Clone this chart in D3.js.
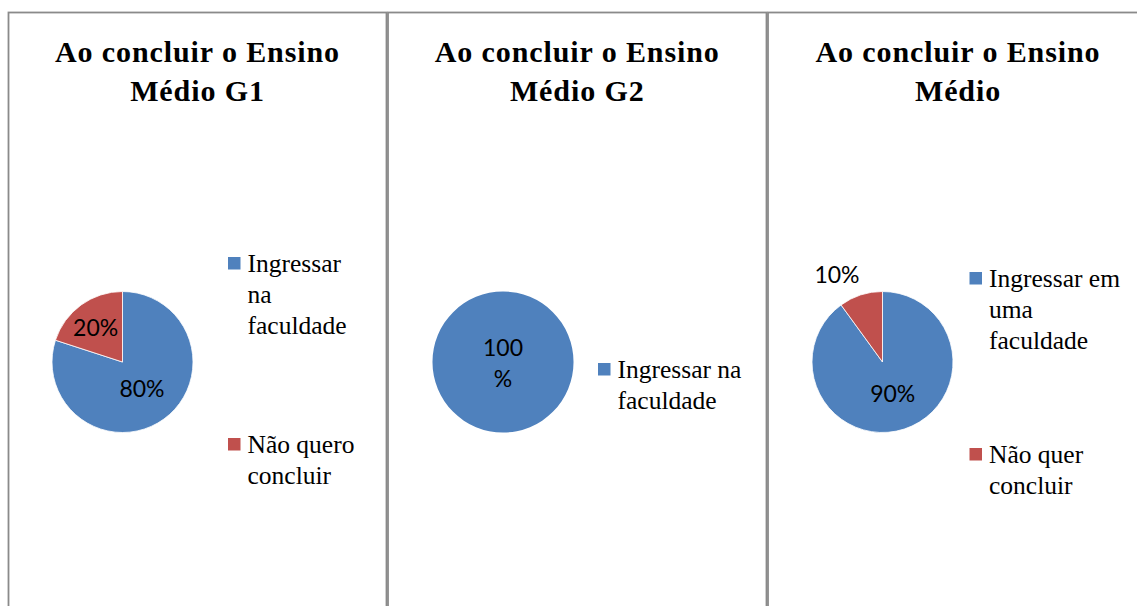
<!DOCTYPE html>
<html>
<head>
<meta charset="utf-8">
<script src="https://cdn.jsdelivr.net/npm/d3@7"></script>
<style>
  body { margin: 0; background: #fff; }
  svg { display: block; }
</style>
</head>
<body>
<div class="chartContainer"></div>
<script>
// titles of the three charts
const titlesG1 = ["Ao concluir o Ensino", "Médio G1"];
const titlesG2 = ["Ao concluir o Ensino", "Médio G2"];
const titlesAll = ["Ao concluir o Ensino", "Médio"];

// categories (legend text, already broken in lines like the original) and values in %
const categoriesG1 = [["Ingressar", "na", "faculdade"], ["Não quero", "concluir"]];
const valuesG1 = [80, 20];

const categoriesG2 = [["Ingressar na", "faculdade"]];
const valuesG2 = [100];

const categoriesAll = [["Ingressar em", "uma", "faculdade"], ["Não quer", "concluir"]];
const valuesAll = [90, 10];

const sliceColors = ["#4F81BD", "#C0504D"];

const serifFont = "'Liberation Serif', Tinos, 'Times New Roman', serif";

window.addEventListener("load", () => {
  drawCharts();
});

function drawCharts() {
  const width = 1137, height = 606;

  const svg = d3.select(".chartContainer")
    .append("svg")
    .attr("width", width)
    .attr("height", height);

  // layout of each panel (positions only)
  const panels = [
    { x0: 8.5, x1: 386.5, cx: 122.5, legendX: 228, legendY: [257, 438],
      titles: titlesG1, cats: categoriesG1, values: valuesG1 },
    { x0: 388, x1: 766.5, cx: 503, legendX: 598, legendY: [363],
      titles: titlesG2, cats: categoriesG2, values: valuesG2 },
    { x0: 768, x1: 1148, cx: 882.5, legendX: 969.5, legendY: [272, 448],
      titles: titlesAll, cats: categoriesAll, values: valuesAll },
  ];

  const cy = 362, radius = 70.5;

  const pie = d3.pie().sort(null).value(d => d);
  const arc = d3.arc().innerRadius(0).outerRadius(radius);

  panels.forEach(p => {
    const g = svg.append("g");

    // panel frame
    g.append("rect")
      .attr("x", p.x0)
      .attr("y", 12.5)
      .attr("width", p.x1 - p.x0)
      .attr("height", 700)
      .attr("fill", "none")
      .attr("stroke", "#8a8a8a")
      .attr("stroke-width", 1.8);

    // title
    const mid = (p.x0 + p.x1) / 2;
    g.selectAll(".title")
      .data(p.titles)
      .enter()
      .append("text")
      .attr("class", "title")
      .attr("x", mid)
      .attr("y", (d, i) => 62 + i * 39)
      .attr("text-anchor", "middle")
      .style("font-family", serifFont)
      .style("font-weight", "bold")
      .style("font-size", "30px")
      .style("letter-spacing", "0.9px")
      .text(d => d);

    // pie
    const pg = g.append("g").attr("transform", "translate(" + p.cx + "," + cy + ")");
    const slices = pie(p.values);

    pg.selectAll("path")
      .data(slices)
      .enter()
      .append("path")
      .attr("d", arc)
      .attr("fill", (d, i) => sliceColors[i])
      .attr("stroke", "#fff")
      .attr("stroke-width", slices.length > 1 ? 0.8 : 0);

    // data labels
    slices.forEach(s => {
      const txt = s.value + "%";
      const a = (s.startAngle + s.endAngle) / 2;
      const lbl = pg.append("text")
        .style("font-family", "Lato, 'Open Sans', sans-serif")
        .style("font-size", "23px")
        .attr("fill", "#000");

      if (s.endAngle - s.startAngle >= 2 * Math.PI - 1e-6) {
        // full pie: label centred, wrapped like the original
        lbl.attr("text-anchor", "middle");
        [String(s.value), "%"].forEach((t, i) => {
          lbl.append("tspan").attr("x", 0).attr("y", -6 + i * 31).text(t);
        });
      } else if (s.value <= 10) {
        // small slice: label outside the pie
        const r2 = radius * 1.1;
        lbl.attr("text-anchor", "end")
          .attr("x", Math.sin(a) * r2 + 1)
          .attr("y", -Math.cos(a) * r2 - 5)
          .text(txt);
      } else {
        const r2 = radius * (s.value < 50 ? 0.6 : 0.47);
        lbl.attr("text-anchor", "middle")
          .attr("x", Math.sin(a) * r2 - (s.value < 50 ? 2 : 0))
          .attr("y", -Math.cos(a) * r2 + 8)
          .text(txt);
      }
    });

    // legend
    p.cats.forEach((lines, i) => {
      const ly = p.legendY[i];
      g.append("rect")
        .attr("x", p.legendX)
        .attr("y", ly)
        .attr("width", 12.5)
        .attr("height", 12.5)
        .attr("fill", sliceColors[i]);

      const t = g.append("text")
        .style("font-family", serifFont)
        .style("font-size", "25.5px")
        .attr("fill", "#000");
      lines.forEach((line, j) => {
        t.append("tspan")
          .attr("x", p.legendX + 19.5)
          .attr("y", ly + 14.5 + j * 31)
          .text(line);
      });
    });
  });
}
</script>
</body>
</html>
